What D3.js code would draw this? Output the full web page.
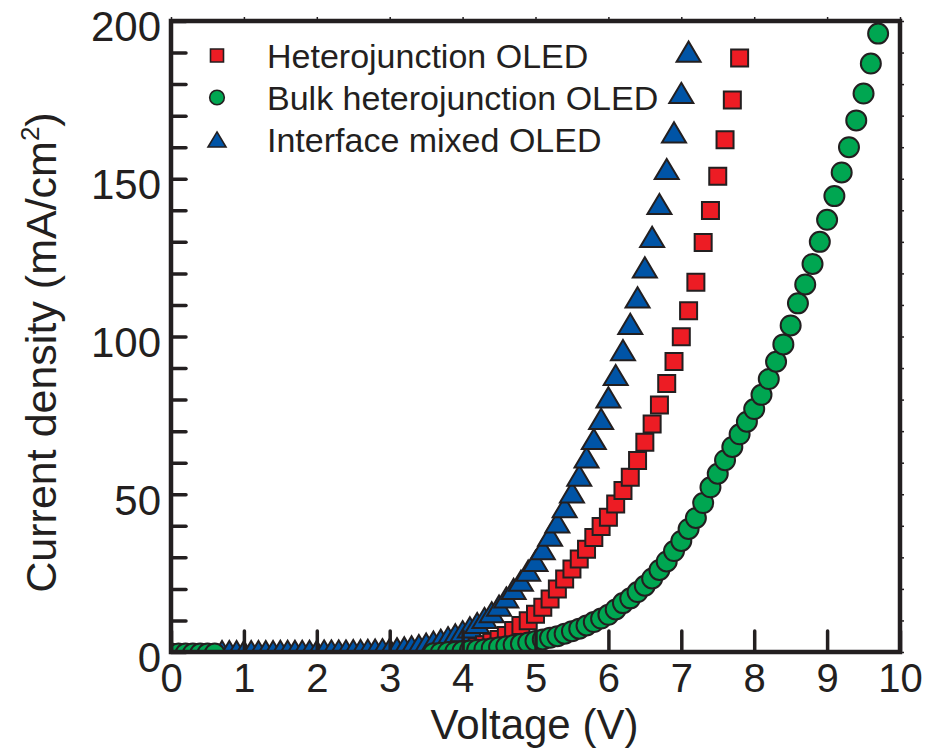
<!DOCTYPE html>
<html>
<head>
<meta charset="utf-8">
<script src="https://cdn.jsdelivr.net/npm/d3@7/dist/d3.min.js"></script>
<style>
  html, body { margin: 0; padding: 0; background: #ffffff; }
  svg { display: block; }
  text { font-family: "Liberation Sans", Arial, Helvetica, sans-serif; fill: #231f20; }
</style>
</head>
<body>
<svg id="chart" width="926" height="749"></svg>
<script>
// ---------------- DATA ----------------
const seriesNames = ["Heterojunction OLED", "Bulk heterojunction OLED", "Interface mixed OLED"];

// Heterojunction OLED (red squares)
const voltHetero = [4.2,4.3,4.4,4.5,4.6,4.7,4.8,4.9,5.0,5.1,5.2,5.3,5.4,5.5,5.6,5.7,5.8,5.9,6.0,6.1,6.2,6.3,6.4,6.5,6.6,6.7,6.8,6.9,7.0,7.1,7.2,7.3,7.4,7.5,7.6,7.7,7.8];
const currHetero = [1.7,2.3,3.1,4.0,5.2,6.8,8.4,9.9,12.0,14.2,16.8,20.0,23.1,26.3,29.5,32.6,36.3,39.8,42.7,46.9,51.2,55.4,60.7,66.5,72.3,78.3,85.1,92.1,99.9,108.2,117.2,129.8,139.9,150.8,162.4,175.0,188.3];

// Bulk heterojunction OLED (green circles)
const voltBulk = [0.0,0.1,0.2,0.3,0.4,0.5,0.6,
  3.6,3.7,3.8,3.9,4.0,4.1,4.2,4.3,4.4,4.5,4.6,4.7,4.8,4.9,5.0,5.1,5.2,5.3,5.4,5.5,5.6,5.7,5.8,5.9,
  6.0,6.1,6.2,6.3,6.4,6.5,6.6,6.7,6.8,6.9,7.0,7.1,7.2,7.3,7.4,7.5,7.6,7.7,7.8,7.9,
  8.0,8.1,8.2,8.3,8.4,8.5,8.6,8.7,8.8,8.9,9.0,9.1,9.2,9.3,9.4,9.5,9.6,9.7];
const currBulk = [-0.5,-0.5,-0.5,-0.5,-0.5,-0.5,-0.5,
  -0.4,-0.2,0.0,0.1,0.3,0.5,0.7,0.9,1.2,1.5,1.8,2.2,2.6,3.0,3.5,4.0,4.5,5.0,5.8,6.6,7.4,8.4,9.5,10.6,
  11.8,13.5,15.5,17.0,19.0,21.0,23.3,26.0,28.7,32.0,35.2,39.0,42.5,47.2,52.2,56.5,60.8,65.0,69.0,73.0,
  77.0,81.5,86.5,92.0,97.5,103.5,110.5,116.5,123.0,130.0,137.0,144.5,152.0,160.0,168.5,177.0,186.5,196.0];

// Interface mixed OLED (blue triangles)
const voltMixed = [0.7,0.8,0.9,1.0,1.1,1.2,1.3,1.4,1.5,1.6,1.7,1.8,1.9,2.0,2.1,2.2,2.3,2.4,2.5,2.6,2.7,2.8,2.9,
  3.0,3.1,3.2,3.3,3.4,3.5,3.6,3.7,3.8,3.9,4.0,4.1,4.2,4.3,4.4,4.5,4.6,4.7,4.8,4.9,
  5.0,5.1,5.2,5.3,5.4,5.5,5.6,5.7,5.8,5.9,6.0,6.1,6.2,6.3,6.4,6.5,6.6,6.7,6.8,6.9,7.0,7.1];
const currMixed = [0.3,0.3,0.3,0.3,0.3,0.3,0.3,0.3,0.4,0.4,0.4,0.4,0.4,0.4,0.5,0.5,0.5,0.5,0.6,0.6,0.7,0.8,0.9,
  1.0,1.2,1.5,1.8,2.2,2.7,3.3,3.9,4.7,5.6,6.6,7.8,9.2,10.8,12.6,14.7,17.3,20.0,22.6,25.8,
  28.9,32.6,36.9,41.1,45.9,50.6,55.9,61.7,67.5,73.9,80.7,87.8,95.7,104.0,112.4,121.9,131.6,142.0,153.1,164.7,177.2,190.3];

const xTickValues = [0,1,2,3,4,5,6,7,8,9,10];
const yTickValues = [0,10,20,30,40,50,60,70,80,90,100,110,120,130,140,150,160,170,180,190,200];
const yLabelValues = [0,50,100,150,200];

// ---------------- LAYOUT ----------------
const INK = "#231f20";
const RED = "#ed1c24", GREEN = "#00a651", BLUE = "#0054a6";
const svg = d3.select("#chart");
const x = d3.scaleLinear().domain([0, 10]).range([171, 900]);
const y = d3.scaleLinear().domain([0, 200]).range([652, 21]);

// bbox-centred upward triangle symbol
const triUp = {
  draw(ctx, size) {
    const w = Math.sqrt(size);
    const h = w * 0.84;
    ctx.moveTo(0, -h / 2);
    ctx.lineTo(w / 2, h / 2);
    ctx.lineTo(-w / 2, h / 2);
    ctx.closePath();
  }
};

svg.append("defs").append("clipPath").attr("id", "plotclip")
  .append("rect")
  .attr("x", x(0)).attr("y", y(200))
  .attr("width", x(10) - x(0)).attr("height", y(0) - y(200));

const plot = svg.append("g").attr("clip-path", "url(#plotclip)");

function drawSeries(volts, currs, type, size, color) {
  const pts = volts.map((v, i) => ({ v, j: currs[i] }));
  plot.append("g").selectAll("path").data(pts).enter().append("path")
    .attr("transform", d => `translate(${x(d.v)},${y(d.j)})`)
    .attr("d", d3.symbol().type(type).size(size)())
    .attr("fill", color)
    .attr("stroke", INK)
    .attr("stroke-width", 2);
}

drawSeries(voltMixed, currMixed, triUp, 24 * 24, BLUE);
drawSeries(voltHetero, currHetero, d3.symbolSquare, 17 * 17, RED);
drawSeries(voltBulk, currBulk, d3.symbolCircle, Math.PI * 10 * 10, GREEN);

// ---------------- AXES ----------------
const xAxis = svg.append("g")
  .attr("transform", `translate(0,${y(0)})`)
  .call(d3.axisBottom(x).tickValues(xTickValues).tickSize(-21).tickPadding(12).tickFormat(d3.format("d")));
xAxis.select(".domain").remove();
xAxis.selectAll("line").attr("stroke", INK).attr("stroke-width", 3.5).attr("stroke-linecap", "round");
xAxis.selectAll("text").attr("font-size", 40).attr("fill", INK)
  .style("font-family", '"Liberation Sans", Arial, sans-serif');

const yAxis = svg.append("g")
  .attr("transform", `translate(${x(0)},0)`)
  .call(d3.axisLeft(y).tickValues(yTickValues).tickSize(-15).tickPadding(10)
    .tickFormat(d => yLabelValues.includes(d) ? d3.format("d")(d) : ""));
yAxis.select(".domain").remove();
yAxis.selectAll("line").attr("stroke", INK).attr("stroke-width", 3.5).attr("stroke-linecap", "round");
yAxis.selectAll("text").attr("font-size", 42).attr("dy", "0.47em").attr("fill", INK)
  .style("font-family", '"Liberation Sans", Arial, sans-serif');

// tiny outer ticks on top and right
const topAxis = svg.append("g").attr("transform", `translate(0,${y(200)})`)
  .call(d3.axisTop(x).tickValues(xTickValues).tickSize(4).tickFormat(""));
topAxis.select(".domain").remove();
topAxis.selectAll("line").attr("stroke", INK).attr("stroke-width", 1.5);
const rightAxis = svg.append("g").attr("transform", `translate(${x(10)},0)`)
  .call(d3.axisRight(y).tickValues(yTickValues).tickSize(4).tickFormat(""));
rightAxis.select(".domain").remove();
rightAxis.selectAll("line").attr("stroke", INK).attr("stroke-width", 1.5);

// frame
svg.append("rect")
  .attr("x", x(0)).attr("y", y(200))
  .attr("width", x(10) - x(0)).attr("height", y(0) - y(200))
  .attr("fill", "none").attr("stroke", INK).attr("stroke-width", 4.5);

// axis titles
svg.append("text")
  .attr("x", (x(0) + x(10)) / 2 - 1).attr("y", 739)
  .attr("text-anchor", "middle").attr("font-size", 42)
  .text("Voltage (V)");

const yt = svg.append("text")
  .attr("transform", `translate(56,${(y(0) + y(200)) / 2 + 16}) rotate(-90)`)
  .attr("text-anchor", "middle").attr("font-size", 43);
yt.append("tspan").text("Current density (mA/cm");
yt.append("tspan").attr("font-size", 26).attr("dy", -17).text("2");
yt.append("tspan").attr("dy", 17).text(")");

// ---------------- LEGEND ----------------
const legendItems = [
  { name: seriesNames[0], type: d3.symbolSquare, size: 13 * 13, color: RED },
  { name: seriesNames[1], type: d3.symbolCircle, size: Math.PI * 7.3 * 7.3, color: GREEN },
  { name: seriesNames[2], type: triUp, size: 18 * 18, color: BLUE }
];
const legend = svg.append("g");
legendItems.forEach((it, i) => {
  const cy = 55.5 + i * 42;
  legend.append("path")
    .attr("transform", `translate(217,${cy})`)
    .attr("d", d3.symbol().type(it.type).size(it.size)())
    .attr("fill", it.color).attr("stroke", INK).attr("stroke-width", 1.6);
  legend.append("text")
    .attr("x", 267).attr("y", cy + 12)
    .attr("font-size", 34)
    .text(it.name);
});
</script>
</body>
</html>
